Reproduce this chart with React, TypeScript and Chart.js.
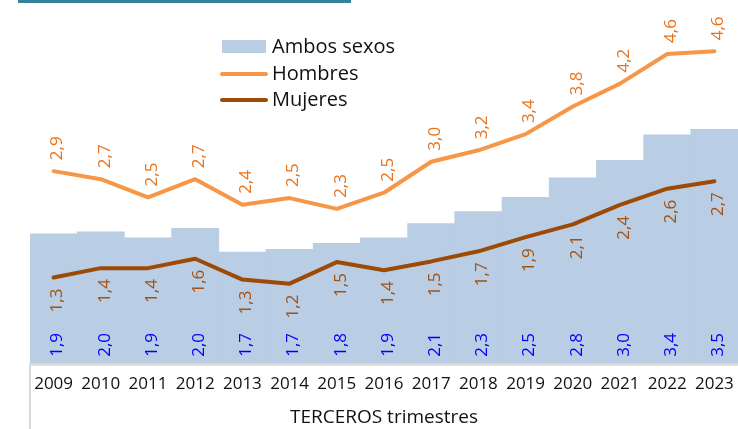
import React, { useEffect, useRef } from "react";
import { Chart, registerables } from "chart.js";

Chart.register(...registerables);

const years = ["2009", "2010", "2011", "2012", "2013", "2014", "2015", "2016", "2017", "2018", "2019", "2020", "2021", "2022", "2023"];
const ambos = [1.93, 1.96, 1.87, 2.01, 1.66, 1.7, 1.79, 1.87, 2.08, 2.26, 2.47, 2.76, 3.02, 3.4, 3.48];
const hombres = [2.86, 2.74, 2.47, 2.74, 2.36, 2.46, 2.3, 2.54, 3.0, 3.17, 3.41, 3.82, 4.16, 4.6, 4.64];
const mujeres = [1.28, 1.42, 1.42, 1.56, 1.25, 1.19, 1.51, 1.39, 1.52, 1.67, 1.88, 2.07, 2.36, 2.6, 2.71];
const axisTitle = "TERCEROS trimestres";
const seriesNames = ["Ambos sexos", "Hombres", "Mujeres"];

const FONT = "'Open Sans', 'DejaVu Sans', sans-serif";
const BAR_COLOR = "#B9CDE5";
const H_COLOR = "#F79646";
const M_COLOR = "#9C4A06";
const H_LABEL = "#E8731C";
const M_LABEL = "#A5520E";
const A_LABEL = "#0000FF";

const fmt = (v: number) => (Math.round(v * 10) / 10).toFixed(1).replace(".", ",");

const decorPlugin = {
  id: "decor",
  afterDatasetsDraw(chart: any) {
    const ctx = chart.ctx;
    const area = chart.chartArea;
    ctx.save();
    ctx.font = `17px ${FONT}`;
    ctx.textBaseline = "middle";
    const drawRot = (text: string, x: number, y: number, align: CanvasTextAlign, color: string) => {
      ctx.save();
      ctx.translate(x, y);
      ctx.rotate(-Math.PI / 2);
      ctx.textAlign = align;
      ctx.fillStyle = color;
      ctx.fillText(text, 0, 0);
      ctx.restore();
    };
    chart.getDatasetMeta(0).data.forEach((el: any, i: number) => {
      drawRot(fmt(ambos[i]), el.x + 4, area.bottom - 7, "left", A_LABEL);
    });
    chart.getDatasetMeta(1).data.forEach((el: any, i: number) => {
      drawRot(fmt(hombres[i]), el.x + 4, el.y - 11, "left", H_LABEL);
    });
    chart.getDatasetMeta(2).data.forEach((el: any, i: number) => {
      drawRot(fmt(mujeres[i]), el.x + 4, el.y + 11, "right", M_LABEL);
    });
    ctx.restore();
  },
  afterDraw(chart: any) {
    const ctx = chart.ctx;
    const area = chart.chartArea;
    ctx.save();
    ctx.strokeStyle = "#D9D9D9";
    ctx.lineWidth = 2;
    ctx.beginPath();
    ctx.moveTo(area.left, area.bottom + 1);
    ctx.lineTo(area.right, area.bottom + 1);
    ctx.moveTo(area.left, area.bottom);
    ctx.lineTo(area.left, chart.height);
    ctx.stroke();
    ctx.fillStyle = "#31849B";
    ctx.fillRect(18, 0, 333, 3);
    ctx.font = `20px ${FONT}`;
    ctx.textBaseline = "middle";
    ctx.textAlign = "left";
    ctx.fillStyle = BAR_COLOR;
    ctx.fillRect(222, 40, 44, 13);
    ctx.lineCap = "round";
    ctx.lineWidth = 4;
    ctx.strokeStyle = H_COLOR;
    ctx.beginPath();
    ctx.moveTo(222, 74);
    ctx.lineTo(266, 74);
    ctx.stroke();
    ctx.strokeStyle = M_COLOR;
    ctx.beginPath();
    ctx.moveTo(222, 100);
    ctx.lineTo(266, 100);
    ctx.stroke();
    ctx.fillStyle = "#111";
    ctx.fillText(seriesNames[0], 272, 47);
    ctx.fillText(seriesNames[1], 272, 74);
    ctx.fillText(seriesNames[2], 272, 100);
    ctx.restore();
  },
};

export default function App() {
  const ref = useRef<HTMLCanvasElement>(null);
  useEffect(() => {
    document.body.style.margin = "0";
    const chart = new Chart(ref.current!, {
      type: "bar",
      data: {
        labels: years,
        datasets: [
          {
            type: "bar",
            label: seriesNames[0],
            data: ambos,
            backgroundColor: BAR_COLOR,
            borderWidth: 0,
            barPercentage: 1,
            categoryPercentage: 1,
            order: 3,
          },
          {
            type: "line",
            label: seriesNames[1],
            data: hombres,
            borderColor: H_COLOR,
            borderWidth: 4,
            pointRadius: 0,
            tension: 0,
            borderCapStyle: "round",
            borderJoinStyle: "round",
            order: 1,
          },
          {
            type: "line",
            label: seriesNames[2],
            data: mujeres,
            borderColor: M_COLOR,
            borderWidth: 4,
            pointRadius: 0,
            tension: 0,
            borderCapStyle: "round",
            borderJoinStyle: "round",
            order: 0,
          },
        ],
      },
      options: {
        responsive: false,
        animation: false,
        layout: { padding: { left: 30, right: 0, top: 27, bottom: 0 } },
        plugins: { legend: { display: false }, tooltip: { enabled: false } },
        scales: {
          y: { display: false, min: 0, max: 5 },
          x: {
            grid: { display: false, drawTicks: false },
            border: { display: false },
            afterFit: (scale: any) => {
              scale.paddingRight = 0;
              scale.paddingLeft = 0;
            },
            ticks: {
              color: "#111",
              font: { family: FONT, size: 17 },
              padding: 10,
              maxRotation: 0,
              autoSkip: false,
            },
            title: {
              display: true,
              text: axisTitle,
              color: "#111",
              font: { family: FONT, size: 19 },
              padding: { top: 2, bottom: 0 },
            },
          },
        },
      },
      plugins: [decorPlugin],
    });
    return () => chart.destroy();
  }, []);
  return (
    <div style={{ position: "fixed", left: 0, top: 0, width: 738, height: 429 }}>
      <canvas ref={ref} width={738} height={429} style={{ width: 738, height: 429 }} />
    </div>
  );
}
